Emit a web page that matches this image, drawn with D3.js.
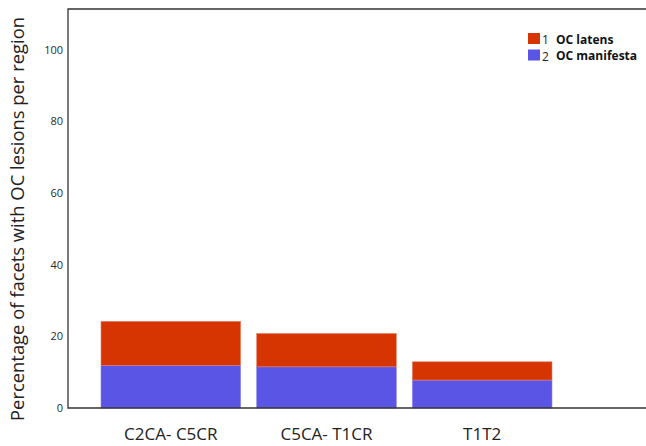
<!DOCTYPE html>
<html lang="en">
<head>
    <meta charset="UTF-8">
    <title>OC lesions per region</title>
    <script src="https://d3js.org/d3.v7.min.js"></script>
    <style>
        body { margin: 0; background: #fff; }
        text { font-family: "Open Sans", sans-serif; }
    </style>
</head>
<body>
<svg id="chart" width="646" height="446"></svg>
<script>
    // regions along the spine
    const regions = ["C2CA- C5CR", "C5CA- T1CR", "T1T2"];
    // percentages
    const manifesta = [11.9, 11.5, 7.8];
    const latens = [12.3, 9.3, 5.1];
    const yTicks = [0, 20, 40, 60, 80, 100];
    const legendItems = [
        { num: "1", label: "OC latens", color: "#d63400" },
        { num: "2", label: "OC manifesta", color: "#5b55e6" }
    ];

    const svg = d3.select("#chart");
    const plotLeft = 68, plotRight = 646, plotTop = 9, plotBottom = 408;

    const x = d3.scaleBand()
        .domain(regions)
        .range([101, 552])
        .paddingInner(0.103)
        .paddingOuter(0);

    const y = d3.scaleLinear()
        .domain([0, 111.4])
        .range([plotBottom, plotTop]);

    // stacked bars: manifesta at bottom, latens on top
    const g = svg.append("g");
    regions.forEach((r, i) => {
        g.append("rect")
            .attr("x", x(r))
            .attr("width", x.bandwidth())
            .attr("y", y(manifesta[i]))
            .attr("height", y(0) - y(manifesta[i]))
            .attr("fill", "#5b55e6")
            .attr("stroke", "#8a86ee")
            .attr("stroke-width", 0.6);
        g.append("rect")
            .attr("x", x(r))
            .attr("width", x.bandwidth())
            .attr("y", y(manifesta[i] + latens[i]))
            .attr("height", y(manifesta[i]) - y(manifesta[i] + latens[i]))
            .attr("fill", "#d63400")
            .attr("stroke", "#e8806a")
            .attr("stroke-width", 0.6);
    });

    // frame lines: left, top, bottom
    svg.append("path")
        .attr("d", `M${plotRight},${plotTop}H${plotLeft}V${plotBottom}H${plotRight}`)
        .attr("fill", "none")
        .attr("stroke", "#333")
        .attr("stroke-width", 1.3);

    // y axis labels
    const yAxis = d3.axisLeft(y).tickValues(yTicks).tickSize(0).tickPadding(5);
    svg.append("g")
        .attr("transform", `translate(${plotLeft},0)`)
        .call(yAxis)
        .call(s => s.select(".domain").remove())
        .selectAll("text")
        .attr("font-family", "Liberation Sans, Arial, sans-serif")
        .attr("font-size", 11)
        .attr("fill", "#2a2a2a");

    // x axis labels
    const xAxis = d3.axisBottom(x).tickSize(0).tickPadding(20);
    svg.append("g")
        .attr("transform", `translate(0,${plotBottom})`)
        .call(xAxis)
        .call(s => s.select(".domain").remove())
        .selectAll("text")
        .attr("font-family", "Open Sans, sans-serif")
        .attr("font-size", 17)
        .attr("fill", "#222");

    // y title
    svg.append("text")
        .attr("transform", `translate(24,219) rotate(-90)`)
        .attr("text-anchor", "middle")
        .attr("font-size", 18.4)
        .attr("fill", "#222")
        .text("Percentage of facets with OC lesions per region");

    // legend
    const legend = svg.append("g").attr("transform", "translate(528,33)");
    legendItems.forEach((d, i) => {
        const row = legend.append("g").attr("transform", `translate(0,${i * 16.5})`);
        row.append("rect")
            .attr("width", 12)
            .attr("height", 11)
            .attr("fill", d.color);
        row.append("text")
            .attr("x", 14)
            .attr("y", 11)
            .attr("font-size", 12)
            .attr("fill", "#222")
            .text(d.num);
        row.append("text")
            .attr("x", 28)
            .attr("y", 10.5)
            .attr("font-size", 12)
            .attr("font-weight", "bold")
            .attr("fill", "#111")
            .text(d.label);
    });
</script>
</body>
</html>
